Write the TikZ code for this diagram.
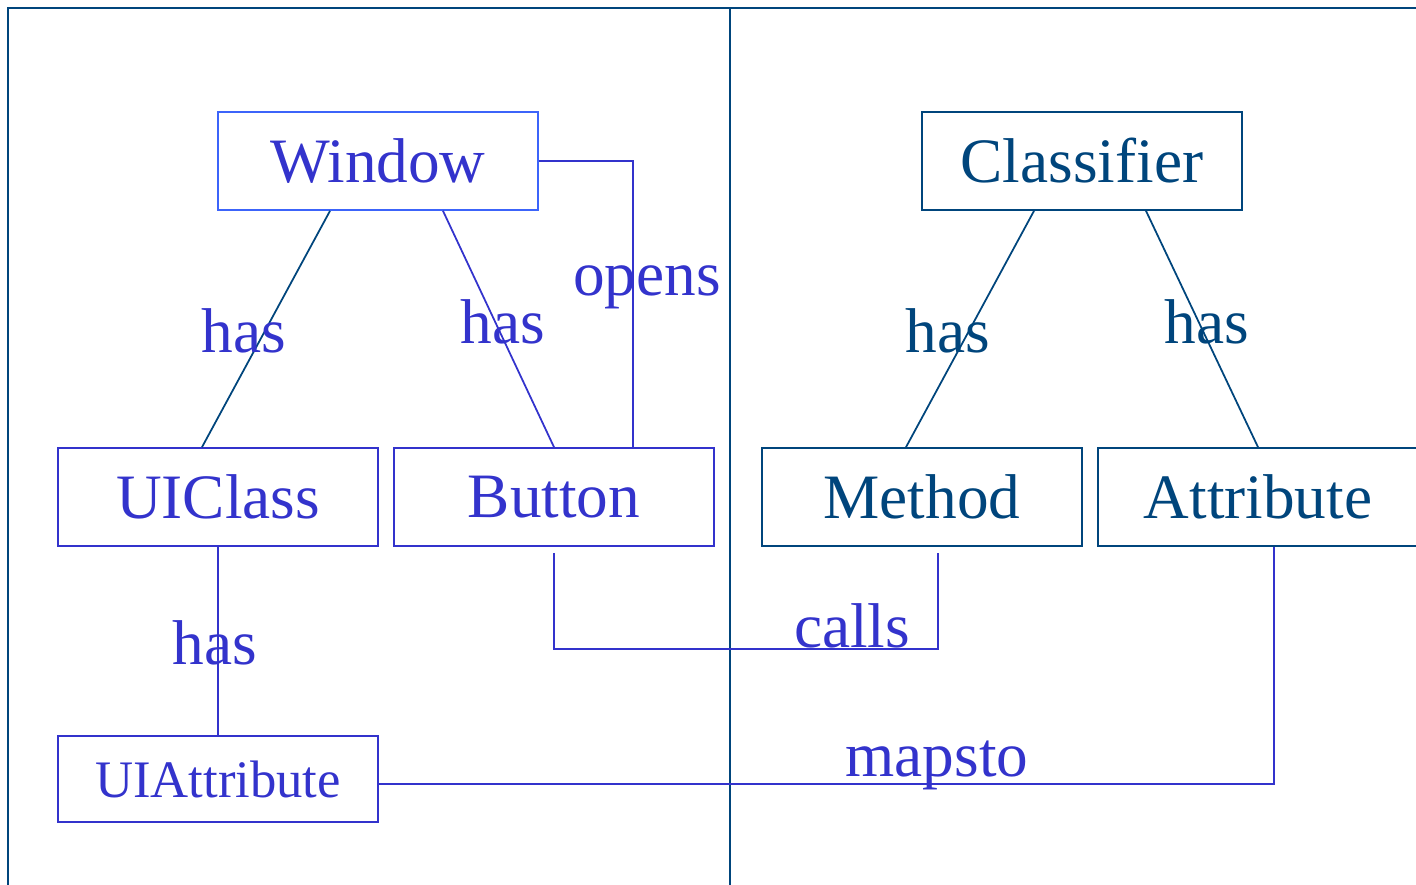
\documentclass[tikz,border=0pt]{standalone}
\usepackage{fontspec}
\setmainfont{Liberation Serif}
\definecolor{uiblue}{RGB}{51,51,204}
\definecolor{modelblue}{RGB}{0,69,124}
\definecolor{winedge}{RGB}{60,100,250}
\tikzset{
	box/.style={draw, rectangle, line width=1pt, minimum width=6.4cm, minimum height=1.96cm, inner sep=0pt, font=\fontsize{36}{40}\selectfont},
	uibox/.style={box, draw=uiblue, text=uiblue},
	modelbox/.style={box, draw=modelblue, text=modelblue},
	lbl/.style={anchor=base, inner sep=0pt, font=\fontsize{36}{40}\selectfont},
	uilbl/.style={lbl, text=uiblue},
	modellbl/.style={lbl, text=modelblue}
}
\begin{document}
\begin{tikzpicture}[x=0.02cm, y=-0.02cm, line width=1pt]
			      \useasboundingbox (0,0) rectangle (1416,885);
			      \draw[modelblue] (1416,8) -- (8,8) -- (8,885);
			      \draw[modelblue] (730,8) -- (730,885);

			      \node[uibox, draw=winedge] (win) at (378,161) {Window};
			      \node[uibox] (uicls) at (218,497) {UIClass};
			      \node[uibox] (btn) at (554,497) {Button};
			      \node[uibox, minimum height=1.72cm, font=\fontsize{30}{34}\selectfont] (uiattr) at (218,779) {UIAttribute};
			      \node[modelbox] (cls) at (1082,161) {Classifier};
			      \node[modelbox] (meth) at (922,497) {Method};
			      \node[modelbox] (attr) at (1258,497) {Attribute};

			      \draw[modelblue] ([xshift=-0.96cm]win.south) -- ([xshift=-0.32cm]uicls.north);
			      \draw[uiblue] ([xshift=1.3cm]win.south) -- (btn.north);
			      \draw[uiblue] (win.east) -| ([xshift=1.58cm]btn.north);
			      \draw[uiblue] (uicls.south) -- (uiattr.north);
			      \draw[modelblue] ([xshift=-0.96cm]cls.south) -- ([xshift=-0.32cm]meth.north);
			      \draw[modelblue] ([xshift=1.28cm]cls.south) -- (attr.north);
			      \draw[uiblue] ([yshift=-0.12cm]btn.south) -- ++(0,96) -| ([xshift=0.32cm,yshift=-0.12cm]meth.south);
			      \draw[uiblue] ([yshift=-0.1cm]uiattr.east) -| ([xshift=0.32cm]attr.south);

			      \node[uilbl] (l1) at (244,352) {has};
			      \node[uilbl] (l2) at (503,343) {has};
			      \node[uilbl] (l3) at (647,296) {opens};
			      \node[uilbl] (l4) at (215,664) {has};
			      \node[modellbl] (l5) at (948,352) {has};
			      \node[modellbl] (l6) at (1207,343) {has};
			      \node[uilbl] (l7) at (852,647) {calls};
			      \node[uilbl] (l8) at (937,776) {mapsto};
		      \end{tikzpicture}
\end{document}
